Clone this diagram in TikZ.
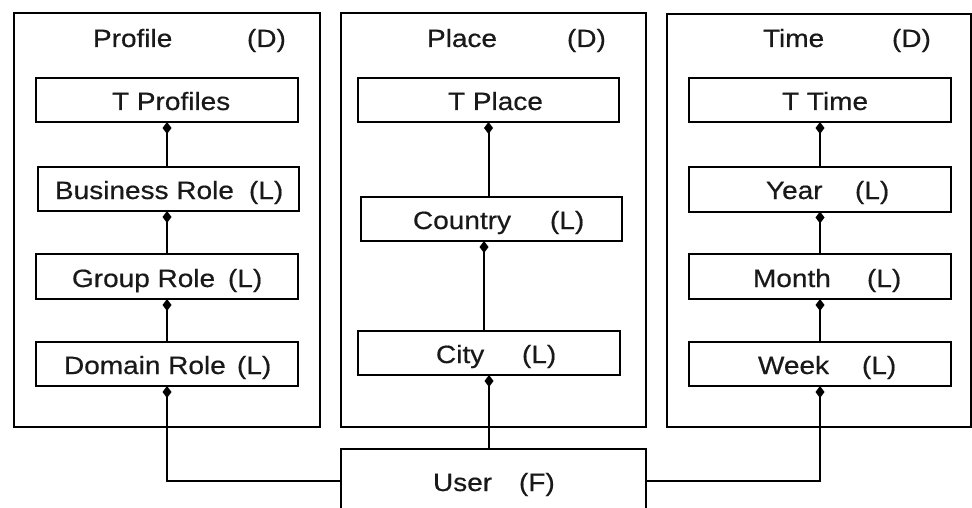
\documentclass[tikz,border=0pt]{standalone}
\usepackage{fontspec}
\setmainfont{Liberation Sans}[FakeStretch=1.12,FakeBold=0.5]
\usetikzlibrary{arrows.meta}
\begin{document}
\begin{tikzpicture}[x=1pt,y=-1pt,
  frame/.style={draw=black,line width=2pt,rectangle,inner sep=0pt,outer sep=0pt},
  lvl/.style={frame,minimum height=44pt},
  conn/.style={draw=black,line width=2pt,-{Diamond[length=12pt,width=9pt]}},
  lbl/.style={anchor=base west,inner sep=0pt,outer sep=0pt,text=black!90,font=\fontsize{25}{30}\selectfont}]
\clip (0,0) rectangle (972,508);
\fill[white] (0,0) rectangle (972,508);

% dimension frames
\node[frame,minimum width=306pt,minimum height=414pt] (fprof)  at (167,220) {};
\node[frame,minimum width=305pt,minimum height=414pt] (fplace) at (493.5,220) {};
\node[frame,minimum width=304pt,minimum height=413pt] (ftime)  at (819,220.5) {};

% profile levels
\node[lvl,minimum width=262pt] (tprof) at (167,100) {};
\node[lvl,minimum width=261pt] (bus)   at (168.5,189) {};
\node[lvl,minimum width=262pt,minimum height=45pt] (grp) at (167,276.5) {};
\node[lvl,minimum width=262pt] (dom)   at (167,364) {};

% place levels
\node[lvl,minimum width=261pt] (tplace)  at (488.5,100) {};
\node[lvl,minimum width=261pt] (country) at (491.5,219) {};
\node[lvl,minimum width=262pt] (city)    at (489,353) {};

% time levels
\node[lvl,minimum width=262pt] (ttime) at (820,100) {};
\node[lvl,minimum width=262pt] (year)  at (820,189.5) {};
\node[lvl,minimum width=262pt,minimum height=45pt] (month) at (820,276.5) {};
\node[lvl,minimum width=262pt] (week)  at (820,364) {};

% fact box
\node[frame,minimum width=305pt,minimum height=64pt] (user) at (493.5,481) {};

% titles
\node[lbl] (tProfile) at (93,47)  {Profile};
\node[lbl] (dProfile) at (247,47) {(D)};
\node[lbl] (tPlace)   at (427,47) {Place};
\node[lbl] (dPlace)   at (567,47) {(D)};
\node[lbl] (tTime)    at (763,47) {Time};
\node[lbl] (dTime)    at (892,47) {(D)};

% level labels
\node[lbl] (xTprof)  at (112,110) {T Profiles};
\node[lbl] (xBus)    at (55,199)  {Business Role};
\node[lbl] (lBus)    at (249,199) {(L)};
\node[lbl] (xGrp)    at (72,287)  {Group Role};
\node[lbl] (lGrp)    at (228,287) {(L)};
\node[lbl] (xDom)    at (64,374)  {Domain Role};
\node[lbl] (lDom)    at (237,374) {(L)};

\node[lbl] (xTplace)  at (448,110) {T Place};
\node[lbl] (xCountry) at (413,229) {Country};
\node[lbl] (lCountry) at (550,229) {(L)};
\node[lbl] (xCity)    at (436,363) {City};
\node[lbl] (lCity)    at (522,363) {(L)};

\node[lbl] (xTtime)  at (782,110) {T Time};
\node[lbl] (xYear)   at (766,199) {Year};
\node[lbl] (lYear)   at (855,199) {(L)};
\node[lbl] (xMonth)  at (753,287) {Month};
\node[lbl] (lMonth)  at (867,287) {(L)};
\node[lbl] (xWeek)   at (758,374) {Week};
\node[lbl] (lWeek)   at (862,374) {(L)};

\node[lbl] (xUser) at (433,491) {User};
\node[lbl] (lUser) at (519,491) {(F)};

% roll-up connectors
\draw[conn] (tprof.south |- bus.north) -- (tprof.south);
\draw[conn] (tprof.south |- grp.north) -- (bus.south -| tprof.south);
\draw[conn] (dom.north) -- (grp.south);
\draw[conn] (user.west) -| (dom.south);

\draw[conn] (tplace.south |- country.north) -- (tplace.south);
\draw[conn] ([xshift=-5pt]city.north) -- ([xshift=-7.5pt]country.south);
\draw[conn] (city.south |- user.north) -- (city.south);

\draw[conn] (year.north) -- (ttime.south);
\draw[conn] (month.north) -- (year.south);
\draw[conn] (week.north) -- (month.south);
\draw[conn] (user.east) -| (week.south);
\end{tikzpicture}
\end{document}
